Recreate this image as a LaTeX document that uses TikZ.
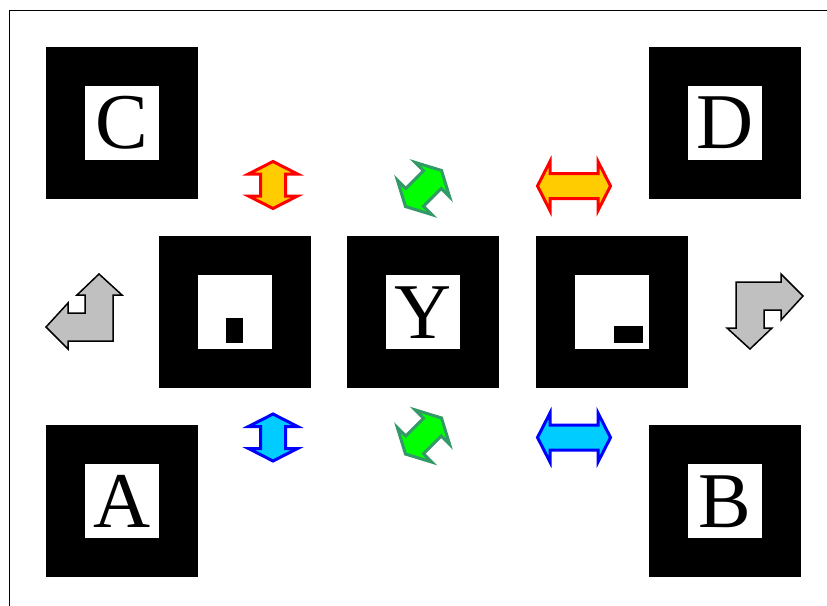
\documentclass[tikz,border=0pt]{standalone}
\usepackage{fontspec}
\setmainfont{Liberation Serif}
\definecolor{warmfill}{RGB}{255,204,0}
\definecolor{coolfill}{RGB}{0,204,255}
\definecolor{leaffill}{RGB}{0,255,0}
\definecolor{leafline}{RGB}{51,153,102}
\definecolor{greyfill}{RGB}{192,192,192}
\tikzset{
  tag/.style={fill=black, minimum size=152, inner sep=0},
  face/.style={fill=white, minimum size=74, inner sep=0, text height=52, text depth=0, font=\fontsize{79}{79}\selectfont},
  warm/.style={draw=red, fill=warmfill, line width=3},
  cool/.style={draw=blue, fill=coolfill, line width=3},
  leaf/.style={draw=leafline, fill=leaffill, line width=3},
  grey/.style={draw=black, fill=greyfill, line width=1.5},
  pics/dblarrow/.style 2 args={code={
    \draw[pic actions] (-#1,0) -- (-#2,-24.5) -- (-#2,-12.5) -- (#2,-12.5) -- (#2,-24.5)
      -- (#1,0) -- (#2,24.5) -- (#2,12.5) -- (-#2,12.5) -- (-#2,24.5) -- cycle;
  }},
  pics/bentarrow/.style={code={
    \draw[pic actions] (-16,-8.5) -- (-16,1.5) -- (1,1.5) -- (1,-16.5) -- (-7,-16.5) -- (15,-37.5)
      -- (38,-16.5) -- (29,-16.5) -- (29,29.5) -- (-16,29.5) -- (-16,37.5) -- (-38,15.5) -- cycle;
  }}
}

\begin{document}
\begin{tikzpicture}[x=1pt, y=-1pt]
    \useasboundingbox (0,0) rectangle (827,605);
    % frame
    \draw[line width=1] (9.5,610) |- (830,10);

    % corner markers
    \node[tag] (C) at (122,122.5) {};
    \node[face] at (C) {C};
    \node[tag] (D) at (725,122.5) {};
    \node[face] at (D) {D};
    \node[tag] (A) at (122,501) {};
    \node[face] at (A) {A};
    \node[tag] (B) at (725,501) {};
    \node[face] at (B) {B};

    % middle row
    \node[tag] (tagL) at (235,312) {};
    \node[face] at (tagL) {};
    \fill ([shift={(-9,6)}]tagL.center) rectangle ++(17,25);
    \node[tag] (tagY) at (423,312) {};
    \node[face] at (tagY) {Y};
    \node[tag] (tagR) at (612,312) {};
    \node[face] at (tagR) {};
    \fill ([shift={(2,14)}]tagR.center) rectangle ++(29,17);

    % arrows above
    \pic[warm, rotate=90] at (273,185) {dblarrow={23.5}{11}};
    \pic[leaf, rotate=45] at (423.5,188.5) {dblarrow={25.5}{12.5}};
    \pic[warm] at (574,186) {dblarrow={36.5}{24}};

    % arrows below
    \pic[cool, rotate=90] at (273,437.5) {dblarrow={23.5}{11}};
    \pic[leaf, rotate=45] at (423.5,436) {dblarrow={25.5}{12.5}};
    \pic[cool] at (574,437.5) {dblarrow={36.5}{24}};

    % side arrows
    \pic[grey] at (84,311.5) {bentarrow};
    \pic[grey, rotate=180] at (765,311.5) {bentarrow};
\end{tikzpicture}
\end{document}
